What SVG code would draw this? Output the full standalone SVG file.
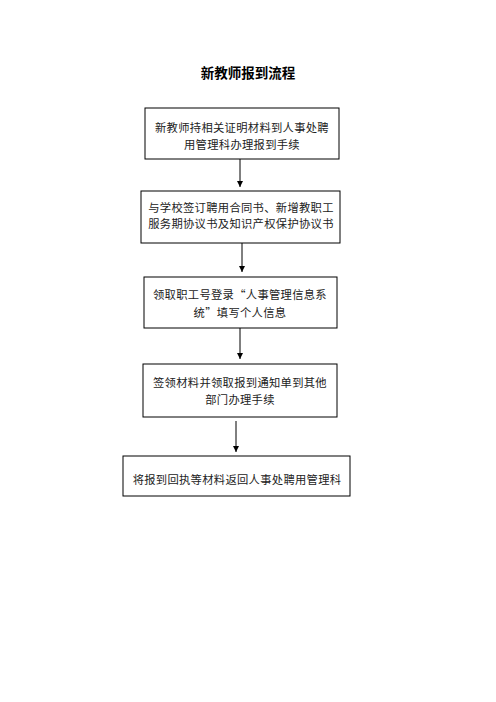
<svg xmlns="http://www.w3.org/2000/svg" width="496" height="702" viewBox="0 0 496 702">
<style>
.box{fill:#fff;stroke:#000;stroke-width:1}
.t{font-family:"Noto Sans CJK SC","Noto Sans CJK JP",sans-serif;font-size:11.3px;fill:#222;text-anchor:middle;letter-spacing:0.3px}
.title{font-family:"Noto Sans CJK SC",sans-serif;font-size:13.5px;font-weight:bold;fill:#000;text-anchor:middle}
.c{stroke:#000;stroke-width:1;fill:none}
</style>
<defs>
<marker id="ah" viewBox="0 0 6 6" refX="6" refY="3" markerWidth="6" markerHeight="6" markerUnits="userSpaceOnUse" orient="auto">
<path d="M0,0 L6,3 L0,6 Z" fill="#000"/>
</marker>
</defs>
<rect width="496" height="702" fill="#fff"/>
<text class="title" x="248" y="78">新教师报到流程</text>
<g id="connectors">
<line class="c" x1="240" y1="159" x2="240" y2="187" marker-end="url(#ah)"/>
<line class="c" x1="242" y1="243" x2="242" y2="272" marker-end="url(#ah)"/>
<line class="c" x1="240" y1="328" x2="240" y2="359" marker-end="url(#ah)"/>
<line class="c" x1="236" y1="421" x2="236" y2="452" marker-end="url(#ah)"/>
</g>
<g id="n1">
<rect class="box" x="145" y="108" width="194" height="51"/>
<text class="t" x="242" y="132">新教师持相关证明材料到人事处聘</text>
<text class="t" x="242" y="149">用管理科办理报到手续</text>
</g>
<g id="n2">
<rect class="box" x="141" y="191" width="199" height="52"/>
<text class="t" x="241" y="212">与学校签订聘用合同书、新增教职工</text>
<text class="t" x="241" y="228">服务期协议书及知识产权保护协议书</text>
</g>
<g id="n3">
<rect class="box" x="144" y="277" width="193" height="51"/>
<text class="t" x="240" y="299">领取职工号登录“人事管理信息系</text>
<text class="t" x="240" y="317">统”填写个人信息</text>
</g>
<g id="n4">
<rect class="box" x="143" y="364" width="194" height="53"/>
<text class="t" x="240" y="387">签领材料并领取报到通知单到其他</text>
<text class="t" x="240" y="404">部门办理手续</text>
</g>
<g id="n5">
<rect class="box" x="123" y="456" width="227" height="40"/>
<text class="t" x="237" y="484">将报到回执等材料返回人事处聘用管理科</text>
</g>
</svg>
